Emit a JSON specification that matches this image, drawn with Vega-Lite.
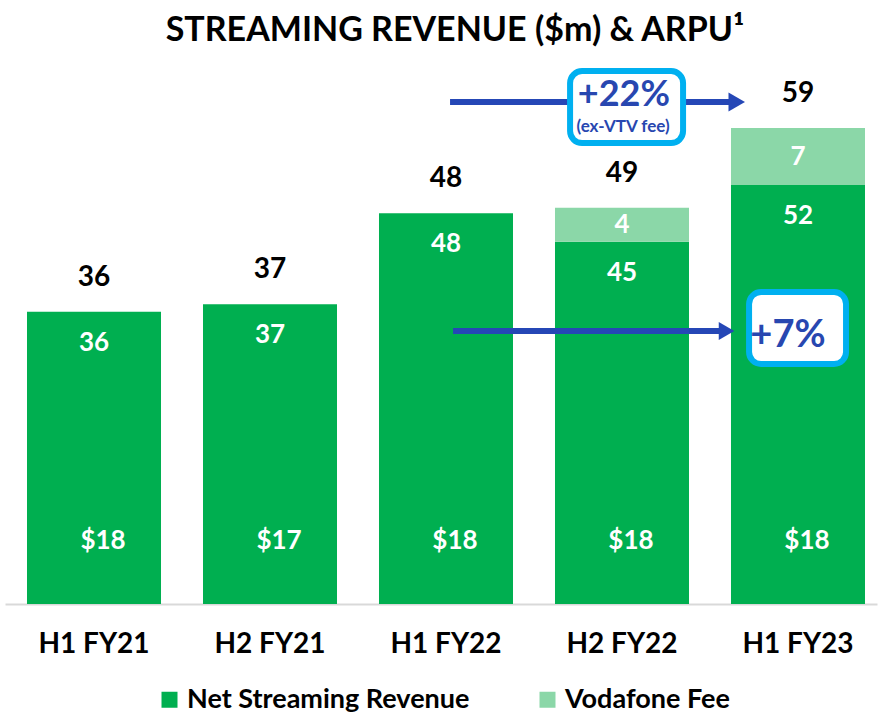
{
  "$schema": "https://vega.github.io/schema/vega-lite/v6.json",
  "width": 872,
  "height": 536,
  "autosize": "none",
  "padding": {"left": 5, "top": 68, "right": 2, "bottom": 111},
  "background": "white",
  "config": {"font": "Lato", "view": {"stroke": null}},
  "title": {
    "text": "STREAMING REVENUE ($m) & ARPU¹",
    "fontSize": 34,
    "fontWeight": "bold",
    "color": "#000000",
    "anchor": "middle",
    "dx": 14,
    "offset": 20
  },
  "datasets": {
    "rev": [
      {"period": "H1 FY21", "series": "Net Streaming Revenue", "value": 36.0},
      {"period": "H2 FY21", "series": "Net Streaming Revenue", "value": 36.9},
      {"period": "H1 FY22", "series": "Net Streaming Revenue", "value": 48.1},
      {"period": "H2 FY22", "series": "Net Streaming Revenue", "value": 44.6},
      {"period": "H2 FY22", "series": "Vodafone Fee", "value": 4.2},
      {"period": "H1 FY23", "series": "Net Streaming Revenue", "value": 51.6},
      {"period": "H1 FY23", "series": "Vodafone Fee", "value": 7.0}
    ],
    "arpu": [
      {"period": "H1 FY21", "arpu": 18},
      {"period": "H2 FY21", "arpu": 17},
      {"period": "H1 FY22", "arpu": 18},
      {"period": "H2 FY22", "arpu": 18},
      {"period": "H1 FY23", "arpu": 18}
    ]
  },
  "resolve": {"scale": {"x": "independent"}},
  "layer": [
    {
      "data": {"name": "rev"},
      "encoding": {
        "x": {
          "field": "period",
          "type": "nominal",
          "scale": {
            "domain": ["H1 FY21", "H2 FY21", "H1 FY22", "H2 FY22", "H1 FY23"],
            "paddingInner": 0.2386,
            "paddingOuter": 0.0966,
            "align": 0.647
          },
          "axis": {
            "title": null,
            "labelAngle": 0,
            "labelFontSize": 28,
            "labelFontWeight": "bold",
            "labelColor": "#000000",
            "ticks": false,
            "domainColor": "#d9d9d9",
            "domainWidth": 2,
            "labelPadding": 26
          }
        }
      },
      "layer": [
        {
          "mark": {"type": "bar"},
          "encoding": {
            "y": {
              "field": "value",
              "type": "quantitative",
              "stack": "zero",
              "scale": {"domain": [0, 66], "nice": false},
              "axis": null
            },
            "color": {
              "field": "series",
              "type": "nominal",
              "scale": {
                "domain": ["Net Streaming Revenue", "Vodafone Fee"],
                "range": ["#00AF50", "#8BD7A8"]
              },
              "legend": {
                "title": null,
                "orient": "none",
                "direction": "horizontal",
                "legendX": 151,
                "legendY": 618,
                "symbolType": "square",
                "symbolSize": 256,
                "symbolStrokeWidth": 0,
                "labelFontSize": 27,
                "labelFontWeight": "bold",
                "labelColor": "#000000",
                "labelOffset": 4,
                "labelLimit": 0,
                "columnPadding": 64
              }
            },
            "order": {"field": "series"}
          }
        },
        {
          "transform": [
            {"aggregate": [{"op": "sum", "field": "value", "as": "total"}], "groupby": ["period"]}
          ],
          "mark": {"type": "text", "fontSize": 28, "fontWeight": "bold", "color": "#000000", "baseline": "middle", "dy": -34},
          "encoding": {
            "y": {"field": "total", "type": "quantitative"},
            "text": {"field": "total", "type": "quantitative", "format": ".0f"}
          }
        },
        {
          "transform": [{"filter": "datum.series === 'Net Streaming Revenue'"}],
          "mark": {"type": "text", "fontSize": 26, "fontWeight": "bold", "color": "#ffffff", "baseline": "middle", "dy": 31},
          "encoding": {
            "y": {"field": "value", "type": "quantitative"},
            "text": {"field": "value", "type": "quantitative", "format": ".0f"}
          }
        },
        {
          "transform": [
            {"stack": "value", "groupby": ["period"], "sort": [{"field": "series"}], "as": ["v0", "v1"]},
            {"filter": "datum.series === 'Vodafone Fee'"},
            {"calculate": "(datum.v0 + datum.v1) / 2", "as": "mid"}
          ],
          "mark": {"type": "text", "fontSize": 26, "fontWeight": "bold", "color": "#ffffff", "baseline": "middle"},
          "encoding": {
            "y": {"field": "mid", "type": "quantitative"},
            "text": {"field": "value", "type": "quantitative", "format": ".0f"}
          }
        },
        {
          "data": {"name": "arpu"},
          "mark": {"type": "text", "fontSize": 26, "fontWeight": "bold", "color": "#ffffff", "baseline": "middle", "dx": 9},
          "encoding": {
            "y": {"datum": 7.7, "type": "quantitative"},
            "text": {"field": "arpu", "type": "quantitative", "format": "$.0f"}
          }
        }
      ]
    },
    {
      "data": {"values": [{}]},
      "encoding": {
        "x": {"type": "quantitative", "scale": {"domain": [-0.5057, 4.4489], "nice": false, "zero": false}, "axis": null}
      },
      "layer": [
        {
          "mark": {"type": "rule", "color": "#2547B6", "strokeWidth": 6},
          "encoding": {
            "x": {"datum": 2.023, "type": "quantitative", "scale": {"domain": [-0.5057, 4.4489], "nice": false, "zero": false}, "axis": null},
            "x2": {"datum": 3.62},
            "y": {"datum": 61.81, "type": "quantitative", "scale": {"domain": [0, 66], "nice": false}, "axis": null}
          }
        },
        {
          "mark": {"type": "point", "shape": "triangle-right", "filled": true, "size": 361, "color": "#2547B6", "opacity": 1},
          "encoding": {
            "x": {"datum": 3.652, "type": "quantitative"},
            "y": {"datum": 61.81, "type": "quantitative"}
          }
        },
        {
          "mark": {"type": "rule", "color": "#2547B6", "strokeWidth": 6},
          "encoding": {
            "x": {"datum": 2.04, "type": "quantitative"},
            "x2": {"datum": 3.56},
            "y": {"datum": 33.62, "type": "quantitative"}
          }
        },
        {
          "mark": {"type": "point", "shape": "triangle-right", "filled": true, "size": 324, "color": "#2547B6", "opacity": 1},
          "encoding": {
            "x": {"datum": 3.594, "type": "quantitative"},
            "y": {"datum": 33.62, "type": "quantitative"}
          }
        },
        {
          "mark": {"type": "rect", "fill": "#ffffff", "stroke": "#00B0F0", "strokeWidth": 6, "cornerRadius": 12},
          "encoding": {
            "x": {"datum": 2.705, "type": "quantitative"},
            "x2": {"datum": 3.347},
            "y": {"datum": 65.63, "type": "quantitative"},
            "y2": {"datum": 56.76}
          }
        },
        {
          "mark": {"type": "rect", "fill": "#ffffff", "stroke": "#00B0F0", "strokeWidth": 6, "cornerRadius": 12},
          "encoding": {
            "x": {"datum": 3.722, "type": "quantitative"},
            "x2": {"datum": 4.273},
            "y": {"datum": 38.42, "type": "quantitative"},
            "y2": {"datum": 29.55}
          }
        },
        {
          "mark": {"type": "text", "text": "+22%", "fontSize": 36, "fontWeight": "bold", "color": "#2847B0", "baseline": "alphabetic", "align": "center"},
          "encoding": {
            "x": {"datum": 3.011, "type": "quantitative"},
            "y": {"datum": 61.32, "type": "quantitative"}
          }
        },
        {
          "mark": {"type": "text", "text": "(ex-VTV fee)", "fontSize": 17, "fontWeight": "bold", "color": "#2847B0", "baseline": "alphabetic", "align": "center"},
          "encoding": {
            "x": {"datum": 3.006, "type": "quantitative"},
            "y": {"datum": 58.12, "type": "quantitative"}
          }
        },
        {
          "mark": {"type": "text", "text": "+7%", "fontSize": 38, "fontWeight": "bold", "color": "#2847B0", "baseline": "alphabetic", "align": "center"},
          "encoding": {
            "x": {"datum": 3.943, "type": "quantitative"},
            "y": {"datum": 31.65, "type": "quantitative"}
          }
        }
      ]
    }
  ]
}
